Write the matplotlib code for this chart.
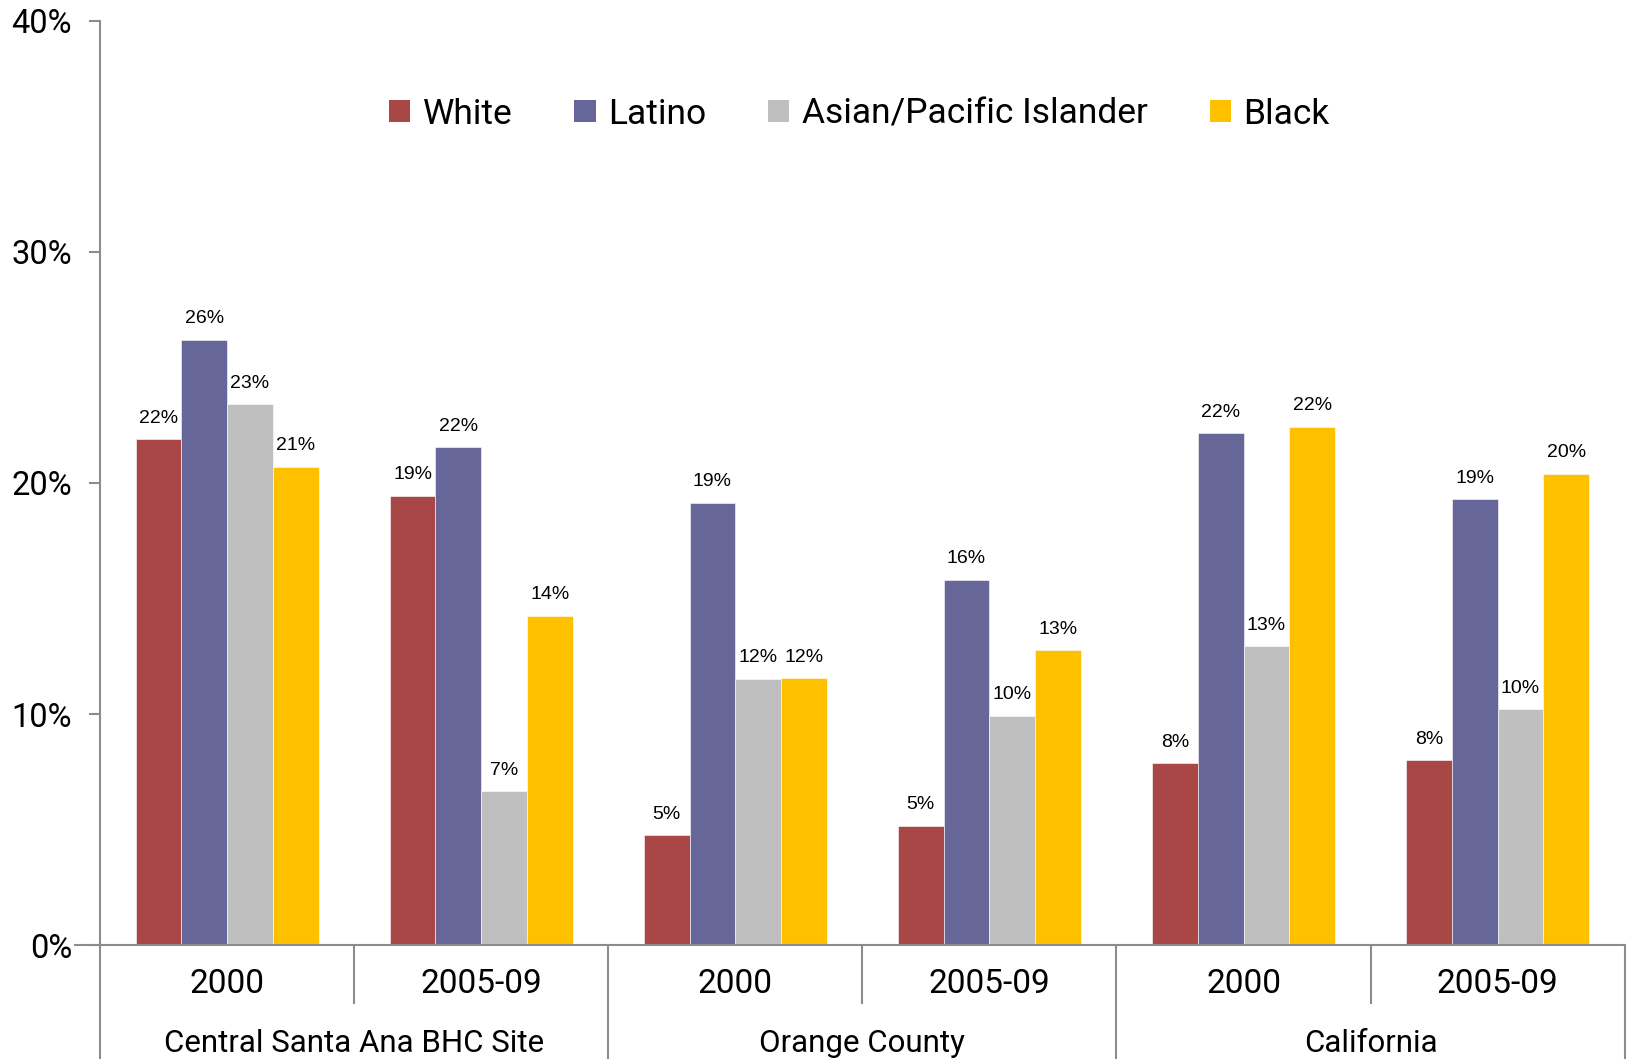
import matplotlib.pyplot as plt
import matplotlib.transforms as mtransforms
from matplotlib.patches import Patch
import numpy as np

years = ['2000', '2005-09', '2000', '2005-09', '2000', '2005-09']
places = ['Central Santa Ana BHC Site', 'Orange County', 'California']
races = ['White', 'Latino', 'Asian/Pacific Islander', 'Black']
colors = ['#A84745', '#666699', '#BFBFBF', '#FFC000']

white = [21.9, 19.45, 4.76, 5.17, 7.87, 8.0]
latino = [26.2, 21.55, 19.15, 15.8, 22.16, 19.3]
asian = [23.4, 6.65, 11.52, 9.93, 12.94, 10.2]
black = [20.7, 14.25, 11.55, 12.76, 22.43, 20.4]
series = [white, latino, asian, black]

narrow = ['Roboto', 'DejaVu Sans']
wide = ['Liberation Sans', 'DejaVu Sans']
gray = '#8C8C8C'

fig = plt.figure(figsize=(16.28, 10.59), dpi=100)
ax = fig.add_axes([0.0614, 0.1076, 0.9366, 0.8727])

x = np.arange(len(years))
w = 0.18
for i, (vals, c) in enumerate(zip(series, colors)):
    pos = x + (i - 1.5) * w
    ax.bar(pos, vals, width=w, color=c, edgecolor='white', linewidth=0.4)
    for px, v in zip(pos, vals):
        ax.annotate(f'{v:.0f}%', (px, v), xytext=(0, 9), textcoords='offset points',
                    ha='center', va='bottom', fontsize=14, family=wide)

ax.set_xlim(-0.5, 5.5)
ax.set_ylim(0, 40)
ax.set_yticks([0, 10, 20, 30, 40])
ax.set_yticklabels(['0%', '10%', '20%', '30%', '40%'], family=narrow, fontsize=23.5)
ax.tick_params(axis='y', length=8, color=gray, width=1.5, pad=12)
ax.set_xticks([])
for s in ['top', 'right']:
    ax.spines[s].set_visible(False)
for s in ['left', 'bottom']:
    ax.spines[s].set_color(gray)
    ax.spines[s].set_linewidth(1.5)

# two-level category axis
trans = mtransforms.blended_transform_factory(ax.transData, ax.transAxes)
for b in np.arange(-0.5, 6.0, 1.0):
    bottom = -0.123 if (b + 0.5) % 2 == 0 else -0.063
    ax.plot([b, b], [0, bottom], color=gray, lw=1.5, transform=trans, clip_on=False)
ax.plot([-0.5 - 0.1, -0.5], [0, 0], color=gray, lw=1.5, transform=trans, clip_on=False)
for xi, yr in zip(x, years):
    ax.text(xi, -0.042, yr, transform=trans, ha='center', va='center', fontsize=24, family=narrow)
for j, pl in enumerate(places):
    ax.text(2 * j + 0.5, -0.106, pl, transform=trans, ha='center', va='center', fontsize=22.5, family=narrow)

handles = [Patch(facecolor=c, edgecolor='none') for c in colors]
ax.legend(handles, races, loc='center', bbox_to_anchor=(0.498, 0.899), ncol=4, frameon=False,
          prop={'family': narrow, 'size': 25.5}, handlelength=0.6, handleheight=0.6,
          handletextpad=0.35, columnspacing=1.75)

fig.savefig('out.png', dpi=100)
